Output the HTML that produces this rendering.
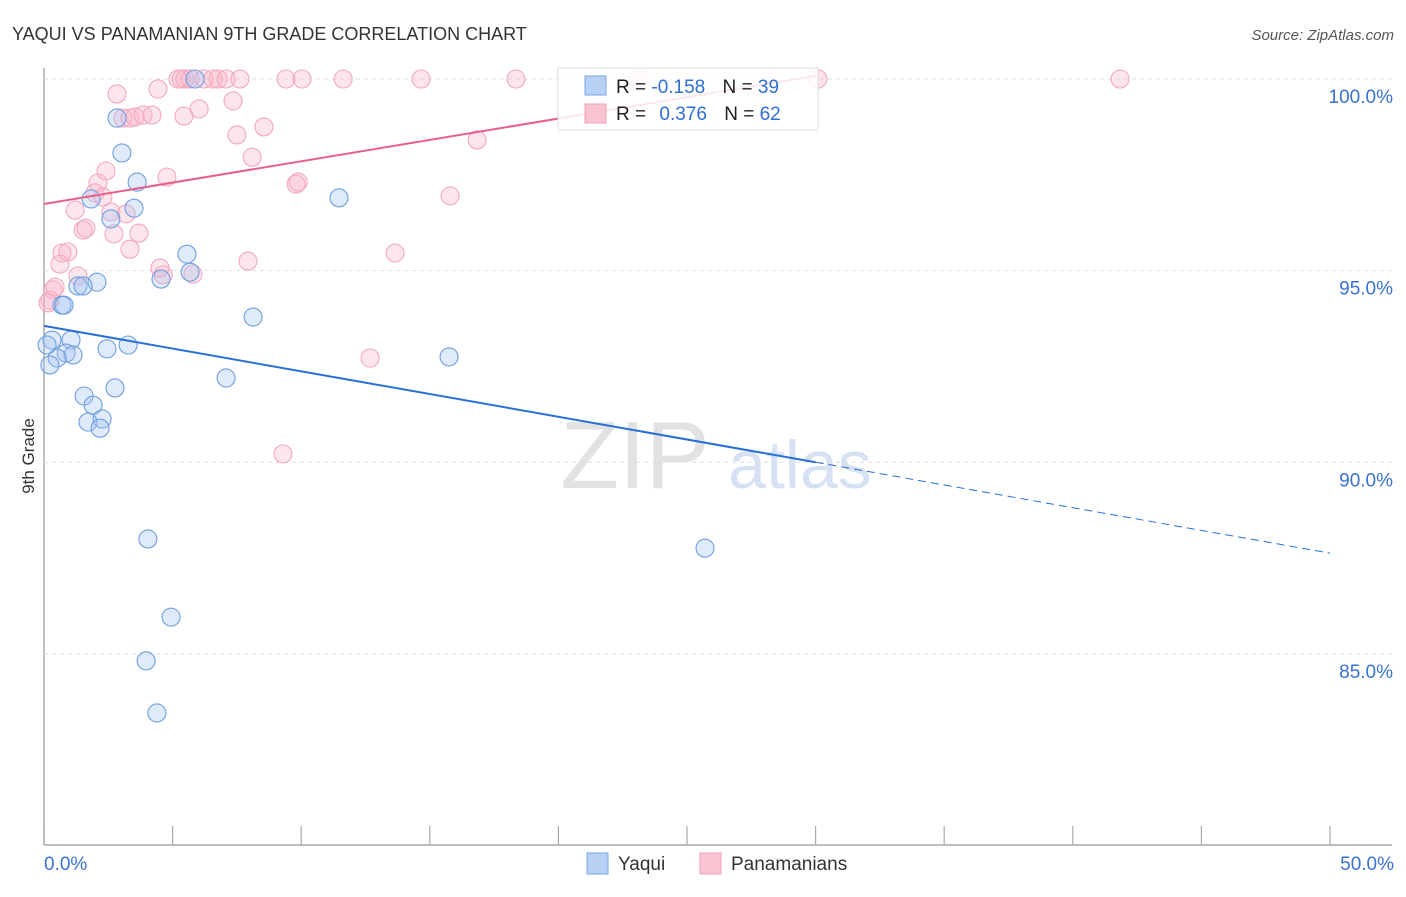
<!DOCTYPE html>
<html><head><meta charset="utf-8"><style>
body{margin:0;background:#fff;font-family:"Liberation Sans",sans-serif}
svg text{font-family:"Liberation Sans",sans-serif}
</style></head><body>
<svg id="c" width="1406" height="892" xmlns="http://www.w3.org/2000/svg">
<text x="12" y="40" font-size="18" fill="#333">YAQUI VS PANAMANIAN 9TH GRADE CORRELATION CHART</text>
<text x="1394" y="40" font-size="15" fill="#555" text-anchor="end" font-style="italic">Source: ZipAtlas.com</text>
<text x="34" y="456" font-size="17" fill="#333" text-anchor="middle" transform="rotate(-90 34 456)">9th Grade</text>
<g><text x="635" y="488" font-size="96" fill="#e2e2e2" font-family="Liberation Serif" text-anchor="middle">ZIP</text><text x="800" y="488" font-size="68" fill="#d6e2f4" text-anchor="middle">atlas</text></g>
<g id="grid"></g><g id="marks"></g><g id="lines"></g>
<g>
<rect x="558" y="68" width="260" height="62" fill="#fff" fill-opacity="0.85" stroke="#ddd"/>
<rect x="585" y="76" width="21" height="19" fill="#b8d0f4" stroke="#7aa6e6"/>
<rect x="585" y="104" width="21" height="19" fill="#f8c4d2" stroke="#f0a0b8"/>
<text x="616" y="93" font-size="19" fill="#222">R = <tspan fill="#2e6fd4">-0.158</tspan>  <tspan dx="12">N = </tspan><tspan fill="#2e6fd4">39</tspan></text>
<text x="616" y="120" font-size="19" fill="#222">R = <tspan fill="#2e6fd4" dx="8">0.376</tspan>  <tspan dx="12">N = </tspan><tspan fill="#2e6fd4">62</tspan></text>
</g>
<g>
<rect x="587" y="853" width="21" height="21" fill="#b8d0f4" stroke="#7aa6e6"/>
<text x="618" y="870" font-size="19" fill="#333">Yaqui</text>
<rect x="700" y="853" width="21" height="21" fill="#f8c4d2" stroke="#f0a0b8"/>
<text x="731" y="870" font-size="19" fill="#333">Panamanians</text>
</g>
<text x="44" y="870" font-size="19" fill="#3a72d0">0.0%</text>
<text x="1394" y="870" font-size="19" fill="#3a72d0" text-anchor="end">50.0%</text>
</svg>
<script>
const yTicks=[100,95,90,85];
const yLabels=["100.0%","95.0%","90.0%","85.0%"];
const yaquiX=[5.87,2.84,3.03,3.62,3.50,2.60,1.83,11.47,5.56,4.55,2.06,1.32,0.70,8.13,0.31,1.05,3.27,2.45,0.86,1.13,0.51,0.23,15.75,7.08,2.76,1.56,1.91,1.71,2.26,2.18,4.04,25.70,4.94,3.97,4.39,5.68,0.78,0.12,1.52];
const yaquiY=[100,98.98,98.07,97.31,96.63,96.35,96.87,96.90,95.43,94.78,94.70,94.60,94.10,93.79,93.19,93.19,93.06,92.96,92.85,92.80,92.72,92.54,92.75,92.20,91.94,91.73,91.49,91.05,91.13,90.89,88.00,87.76,85.96,84.82,83.46,94.96,94.10,93.06,94.60];
const panX=[5.33,5.48,5.68,6.22,6.57,6.77,7.08,7.62,9.41,10.03,11.63,14.66,18.35,23.10,30.09,41.84,2.84,4.43,7.35,6.03,5.44,8.55,7.50,8.09,3.07,3.34,3.54,3.85,4.20,4.78,2.41,2.10,9.80,9.88,15.79,16.84,1.98,2.29,1.21,2.60,3.19,2.72,3.69,1.52,1.63,3.34,0.70,0.93,0.62,7.93,13.65,4.51,4.63,5.79,1.32,0.35,0.23,12.68,9.29,0.43,0.16,5.21];
const panY=[100,100,100,100,100,100,100,100,100,100,100,100,100,100,100,100,99.61,99.74,99.43,99.22,99.03,98.75,98.54,97.96,98.98,98.98,99.01,99.06,99.06,97.44,97.60,97.29,97.26,97.31,96.95,98.41,97.03,96.92,96.58,96.53,96.48,95.96,95.98,96.06,96.11,95.56,95.46,95.49,95.17,95.25,95.46,95.07,94.89,94.91,94.86,94.50,94.23,92.72,90.22,94.57,94.16,100];
const yaquiTrend=[93.56,87.63];
const panTrend=[96.74,102.31];
const NS="http://www.w3.org/2000/svg";
const X=v=>44+v/50*1286;
const Y=v=>79+(100-v)*38.33;
function mk(t,a,p){const e=document.createElementNS(NS,t);for(const k in a)e.setAttribute(k,a[k]);p.appendChild(e);return e;}
const svg=document.getElementById('c'),grid=document.getElementById('grid'),marks=document.getElementById('marks'),lines=document.getElementById('lines');
let ax=mk('line',{x1:44,y1:68,x2:44,y2:845,stroke:'#aaa','stroke-width':1.5},grid);


let bx=mk('line',{x1:44,y1:845,x2:1392,y2:845,stroke:'#aaa','stroke-width':1.5},grid);


for(let i=0;i<=10;i++){let t=mk('line',{x1:X(i*5),y1:826,x2:X(i*5),y2:845,stroke:'#aaa','stroke-width':1.2},grid);

}
yTicks.forEach((v,i)=>{let g=mk('line',{x1:44,y1:Y(v),x2:1392,y2:Y(v),stroke:'#ddd','stroke-dasharray':'4,4'},grid);


let t=mk('text',{x:1393,y:Y(v)+24,'font-size':19,fill:'#3a72d0','text-anchor':'end'},grid);t.textContent=yLabels[i];

});
panX.forEach((v,i)=>{let c=mk('circle',{cx:X(v),cy:Y(panY[i]),r:9,fill:'rgba(248,180,200,0.35)',stroke:'#f2a8be','stroke-width':1.1},marks);

});
yaquiX.forEach((v,i)=>{let c=mk('circle',{cx:X(v),cy:Y(yaquiY[i]),r:9,fill:'rgba(164,196,240,0.35)',stroke:'#6e9ee0','stroke-width':1.1},marks);

});
const yAt=(tr,x)=>tr[0]+(tr[1]-tr[0])*x/50;
let l1=mk('line',{x1:X(0),y1:Y(yAt(yaquiTrend,0)),x2:X(30),y2:Y(yAt(yaquiTrend,30)),stroke:'#2a6fd6','stroke-width':2},lines);


let l2=mk('line',{x1:X(30),y1:Y(yAt(yaquiTrend,30)),x2:X(50),y2:Y(yAt(yaquiTrend,50)),stroke:'#2a6fd6','stroke-width':1,'stroke-dasharray':'8,5'},lines);


let l3=mk('line',{x1:X(0),y1:Y(yAt(panTrend,0)),x2:X(30),y2:Y(yAt(panTrend,30)),stroke:'#e8608a','stroke-width':2},lines);


</script>
</body></html>
